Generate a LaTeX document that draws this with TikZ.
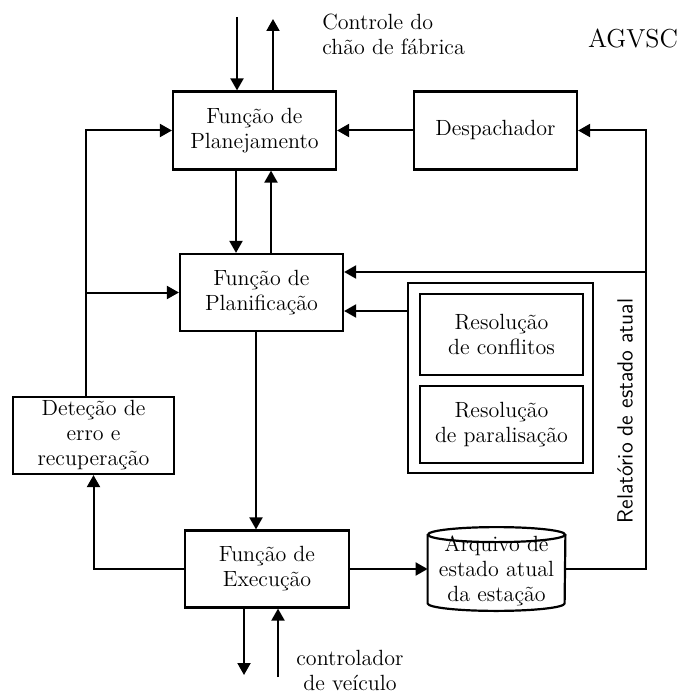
\documentclass[tikz,border=0pt]{standalone}
\usepackage{tikz}
\usetikzlibrary{arrows.meta,shapes.geometric,positioning}
\tikzset{
  bloco/.style={draw,line width=1.1pt,minimum width=81.5pt,minimum height=39pt,align=center,inner sep=1pt,font=\fontsize{11}{12.5}\selectfont},
  texto/.style={inner sep=0pt,font=\fontsize{11}{12.5}\selectfont},
  seta/.style={-{Triangle[length=6pt,width=6.5pt]},line width=1pt}
}

\begin{document}
\begin{tikzpicture}[x=0.5pt,y=-0.5pt]
  \useasboundingbox (0,0) rectangle (681,695);
  \node[bloco] (plan) at (254.5,130.5) {Função de\\Planejamento};
  \node[bloco] (desp) at (495.5,130.5) {Despachador};
  \node[bloco,minimum height=38.5pt] (planif) at (261.5,292.5) {Função de\\Planificação};
  \node[draw,line width=1.1pt,minimum width=92.5pt,minimum height=95pt] (res) at (500.5,378) {};
  \node[bloco,minimum height=40.5pt] (conf) at (501.5,334.5) {Resolução\\de conflitos};
  \node[bloco,minimum height=38.5pt] (paral) at (501.5,424.5) {Resolução\\de paralisação};
  \node[bloco,minimum width=80.5pt,minimum height=38.5pt] (det) at (93.5,435.5) {Deteção de\\erro e\\recuperação};
  \node[bloco,minimum width=82pt,minimum height=38.5pt] (exec) at (267,569) {Função de\\Execução};
  % arquivo (cilindro)
  \node[minimum width=68.5pt,minimum height=34pt,inner sep=0pt] (arq) at (496.5,569) {};
  \draw[line width=1.1pt] (arq.north west) -- (arq.south west) arc[start angle=180,end angle=360,x radius=34.25pt,y radius=3.75pt] -- (arq.north east);
  \draw[line width=1.1pt] (arq.north) ellipse[x radius=34.25pt,y radius=3.75pt];
  \node[texto,align=center] (arqtxt) at (496.5,571) {Arquivo de\\estado atual\\da estação};
  % textos soltos
  \node[texto,anchor=north west,align=left] (chao) at (322,14) {Controle do\\chão de fábrica};
  \node[inner sep=0pt,font=\fontsize{13}{15}\selectfont] (agv) at (633,38) {AGVSC};
  \node[texto,align=center] (veic) at (350,670) {controlador\\de veículo};
  \node[inner sep=0pt,rotate=90,font=\sffamily\fontsize{11}{13}\selectfont] (rel) at (625,411) {Relatório de estado atual};
  % ligacoes
  \coordinate (ctlin) at (237,17);
  \coordinate (ctlout) at (273,19);
  \coordinate (pdn) at (236,0);
  \coordinate (pup) at (271,0);
  \coordinate (esq) at (86,0);
  \coordinate (meio) at (256,0);
  \coordinate (dir) at (646,0);
  \coordinate (vdn) at (244,675);
  \coordinate (vup) at (278,677);
  \draw[seta] (ctlin) -- (ctlin |- plan.north);
  \draw[seta] (ctlout |- plan.north) -- (ctlout);
  \draw[seta] (desp.west) -- (plan.east);
  \draw[seta] (pdn |- plan.south) -- (pdn |- planif.north);
  \draw[seta] (pup |- planif.north) -- (pup |- plan.south);
  \draw[seta] (esq |- det.north) |- (plan.west);
  \draw[seta] (esq |- planif.west) -- (planif.west);
  \draw[seta] (meio |- planif.south) -- (meio |- exec.north);
  \draw[seta] (exec.west) -| (det.south);
  \draw[seta] (exec.east) -- (arq.west);
  \draw[seta] (arq.east) -| (dir |- desp.east) -- (desp.east);
  \draw[seta] (dir |- 0,272) -- (planif.east |- 0,272);
  \draw[seta] (res.west |- 0,311) -- (planif.east |- 0,311);
  \draw[seta] (vdn |- exec.south) -- (vdn);
  \draw[seta] (vup) -- (vup |- exec.south);
\end{tikzpicture}
\end{document}
